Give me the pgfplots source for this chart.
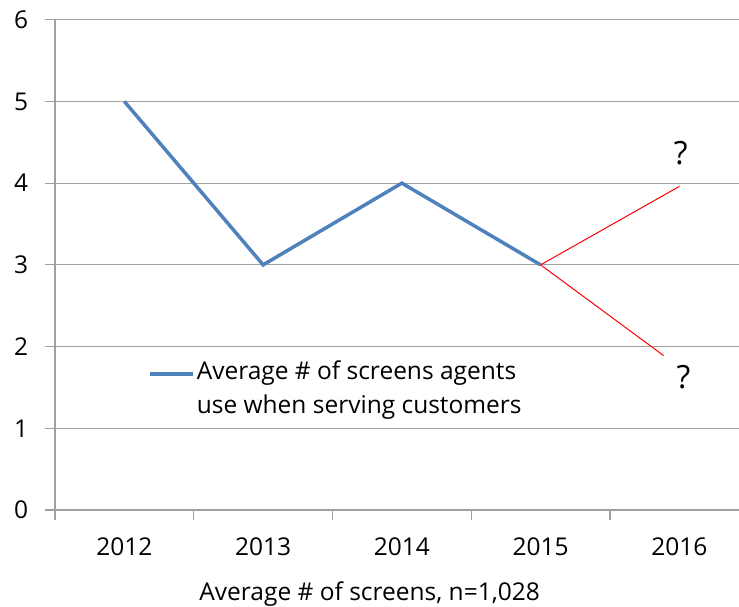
\documentclass[border=0pt]{standalone}
\usepackage{fontspec}
\setmainfont{Open Sans}
\usepackage{pgfplots}
\pgfplotsset{compat=1.18}
\definecolor{excelblue}{HTML}{4F81BD}
\definecolor{gridgray}{HTML}{A0A0A0}
\begin{document}
\fontsize{24.5bp}{29bp}\selectfont
\begin{tikzpicture}
\begin{axis}[
  scale only axis, width=684bp, height=490.3bp,
  xmin=-0.5, xmax=4.43, ymin=0, ymax=6,
  axis x line*=bottom, axis y line*=left,
  axis line style={gridgray, line width=1.2bp},
  xtick={-0.5,0.5,1.5,2.5,3.5}, xticklabels={},
  extra x ticks={0,1,2,3,4},
  extra x tick labels={2012,2013,2014,2015,2016},
  extra x tick style={major tick length=0pt, grid=none},
  ytick={0,1,2,3,4,5,6}, ymajorgrids,
  grid style={gridgray, line width=1.2bp},
  tick style={gridgray, line width=1.2bp},
  major tick length=9.5bp, tick align=outside,
  tick label style={font=\fontsize{24.5bp}{29bp}\selectfont},
  /pgf/number format/assume math mode=true,
  yticklabel style={xshift=-9bp},
  xticklabel style={yshift=-19bp},
  xlabel={Average \# of screens, n=1,028},
  xlabel style={at={(axis description cs:0.46,0)}, anchor=center, yshift=-84bp, font=\fontsize{24.5bp}{29bp}\selectfont},
  legend image code/.code={\draw[#1] (0bp,15bp) -- (43bp,15bp);},
  legend style={draw=none, fill=none, at={(axis cs:0.171,1.85)}, anchor=north west,
    inner sep=0pt, cells={align=left, inner xsep=0bp}, font=\fontsize{24.5bp}{34bp}\selectfont},
  clip=false,
]
\addplot[excelblue, line width=3.5bp] coordinates {(0,5) (1,3) (2,4) (3,3)};
\addlegendentry{Average \# of screens agents\\use when serving customers}
\addplot[red, line width=1bp, forget plot] coordinates {(3,3) (4,3.96)};
\addplot[red, line width=1bp, forget plot] coordinates {(3,3) (3.886,1.89)};
\node[font=\fontsize{32bp}{36bp}\selectfont] at (axis cs:4.01,4.37) {?};
\node[font=\fontsize{32bp}{36bp}\selectfont] at (axis cs:4.03,1.62) {?};
\end{axis}
\pgfresetboundingbox
\path[use as bounding box] (-55bp,-97bp) rectangle (684bp,510bp);
\end{tikzpicture}
\end{document}
